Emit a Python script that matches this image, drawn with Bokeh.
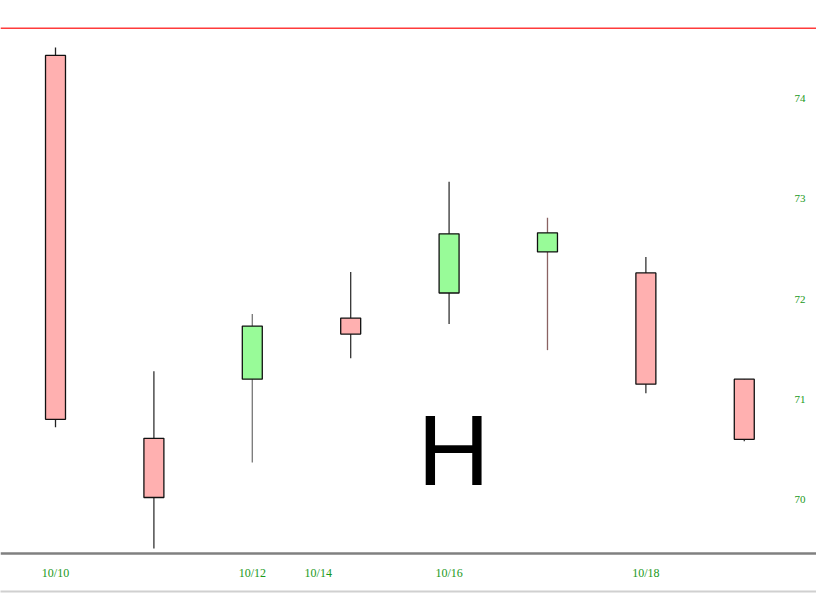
from bokeh.plotting import figure
from bokeh.models import Span, FixedTicker, LinearAxis, Range1d, ColumnDataSource
from bokeh.core.properties import value
from bokeh.embed import file_html
from bokeh.resources import INLINE

# ---- data ----
idx = [0, 1, 2, 3, 4, 5, 6, 7]
opens = [74.43, 70.61, 71.20, 71.81, 72.06, 72.47, 72.26, 71.20]
closes = [70.80, 70.02, 71.73, 71.65, 72.65, 72.66, 71.15, 70.60]
highs = [74.51, 71.28, 71.85, 72.27, 73.17, 72.81, 72.42, 71.20]
lows = [70.72, 69.51, 70.37, 71.41, 71.75, 71.49, 71.06, 70.58]
wick_colors = ["#222222", "#333333", "#777777", "#333333", "#333333", "#8a6262", "#333333", "#333333"]
x_tick_pos = [0, 2, 2.67, 4, 6]
x_tick_labels = ["10/10", "10/12", "10/14", "10/16", "10/18"]
y_ticks = [70, 71, 72, 73, 74, 75]
ref_level = 74.70
floor_level = 69.46
mark_text = ["H"]
mark_x = [4.045]
mark_y = [70.495]

UP = "#98fb98"
DOWN = "#ffb0b0"

tops = [max(o, c) for o, c in zip(opens, closes)]
bots = [min(o, c) for o, c in zip(opens, closes)]
colors = [UP if c > o else DOWN for o, c in zip(opens, closes)]

src = ColumnDataSource(dict(x=idx, top=tops, bottom=bots, high=highs, low=lows,
                            color=colors, wick=wick_colors))

p = figure(width=816, height=593, output_backend="svg", toolbar_location=None,
           x_range=Range1d(-0.559, 7.734), y_range=Range1d(69.082, 74.978),
           x_axis_location=None, y_axis_location=None,
           min_border=0, min_border_right=0, min_border_bottom=2)
p.grid.visible = False
p.outline_line_color = None
p.background_fill_color = "white"
p.border_fill_color = "white"

p.segment(x0="x", x1="x", y0="low", y1="high", line_color="wick", line_width=1.3, source=src)
p.vbar(x="x", width=0.203, top="top", bottom="bottom", fill_color="color",
       line_color="#111111", line_width=1.3, source=src)

p.add_layout(Span(location=ref_level, dimension="width", line_color="#ff3b3b", line_width=1.5))
p.add_layout(Span(location=floor_level, dimension="width", line_color="#808080", line_width=2.5))

p.text(x=mark_x, y=mark_y, text=mark_text, text_font=value("Liberation Sans"),
       text_font_size="100px", text_align="center", text_baseline="middle", text_color="black")

xa = LinearAxis(ticker=FixedTicker(ticks=x_tick_pos),
                major_label_overrides={t: l for t, l in zip(x_tick_pos, x_tick_labels)})
xa.axis_line_color = "#d0d0d0"
xa.axis_line_width = 2
xa.major_tick_line_color = None
xa.minor_tick_line_color = None
xa.major_tick_out = 0
xa.major_label_standoff = -26
xa.major_label_text_font = "Liberation Serif"
xa.major_label_text_font_size = "12px"
xa.major_label_text_color = "#1a991a"
p.add_layout(xa, "below")

ya = LinearAxis(ticker=FixedTicker(ticks=y_ticks))
ya.axis_line_color = None
ya.major_tick_line_color = None
ya.minor_tick_line_color = None
ya.major_tick_out = 0
ya.major_label_standoff = -22
ya.major_label_text_font = "Liberation Serif"
ya.major_label_text_font_size = "11px"
ya.major_label_text_color = "#1a991a"
p.add_layout(ya, "right")

open("out.html", "w").write(file_html(p, INLINE))
